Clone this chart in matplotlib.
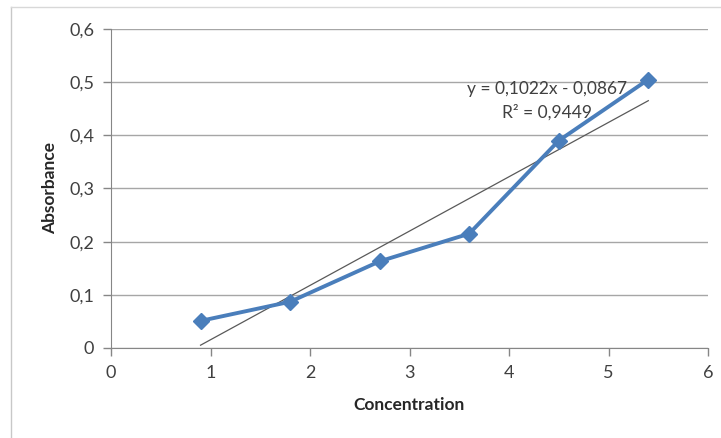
import matplotlib
matplotlib.use("Agg")
import matplotlib.pyplot as plt
from matplotlib.lines import Line2D
import numpy as np

concentration = [0.9, 1.8, 2.7, 3.6, 4.5, 5.4]
absorbance = [0.051, 0.087, 0.163, 0.215, 0.390, 0.505]
x_ticks = [0, 1, 2, 3, 4, 5, 6]
y_ticks = [0, 0.1, 0.2, 0.3, 0.4, 0.5, 0.6]
y_tick_labels = ["0", "0,1", "0,2", "0,3", "0,4", "0,5", "0,6"]
slope, intercept = 0.1022, -0.0867
equation = "y = 0,1022x - 0,0867"
r2_text = "R² = 0,9449"

plt.rcParams['font.family'] = ['Lato', 'DejaVu Sans']

fig = plt.figure(figsize=(7.21, 4.38), dpi=100)
ax = fig.add_axes([111/721, 1 - 348/438, (708 - 111)/721, (348 - 29)/438])

# figure frame
fig.add_artist(Line2D([11/721, 11/721], [0, 1 - 7/438], transform=fig.transFigure, color='#c8c8c8', lw=1))
fig.add_artist(Line2D([11/721, 1], [1 - 7/438, 1 - 7/438], transform=fig.transFigure, color='#d8d8d8', lw=1))

ax.set_xlim(0, 6)
ax.set_ylim(0, 0.6)
ax.set_xticks(x_ticks)
ax.set_xticklabels([str(t) for t in x_ticks])
ax.set_yticks(y_ticks)
ax.set_yticklabels(y_tick_labels)

ax.yaxis.grid(True, color='#a6a6a6', lw=1)
ax.set_axisbelow(True)
for s in ['top', 'right']:
    ax.spines[s].set_visible(False)
ax.spines['left'].set_color('#868686')
ax.spines['bottom'].set_color('#868686')
ax.tick_params(axis='both', colors='#868686', length=6, width=1, labelcolor='#404040', labelsize=13)
ax.tick_params(axis='x', pad=6)
ax.tick_params(axis='y', pad=6)

# trendline
fit_x = np.array([min(concentration), max(concentration)])
ax.plot(fit_x, slope * fit_x + intercept, color='#595959', lw=0.9, zorder=2)

ax.plot(concentration, absorbance, color='#4a7ebb', lw=2.8, marker='D', markersize=8,
        markerfacecolor='#4a7ebb', markeredgecolor='#4a7ebb', zorder=3)

ax.text(4.38, 0.487, equation, ha='center', va='center', fontsize=12.5, color='#404040')
ax.text(4.38, 0.444, r2_text, ha='center', va='center', fontsize=12.5, color='#404040')

ax.set_xlabel("Concentration", fontsize=12.5, fontweight='bold', color='#262626')
ax.set_ylabel("Absorbance", fontsize=12.5, fontweight='bold', color='#262626')
ax.xaxis.set_label_coords(0.5, -57/319, transform=ax.transAxes)
ax.yaxis.set_label_coords(-61/597, 0.5, transform=ax.transAxes)
ax.xaxis.label.set_va('center')
ax.yaxis.label.set_va('center')

fig.savefig("out.png", dpi=100)
